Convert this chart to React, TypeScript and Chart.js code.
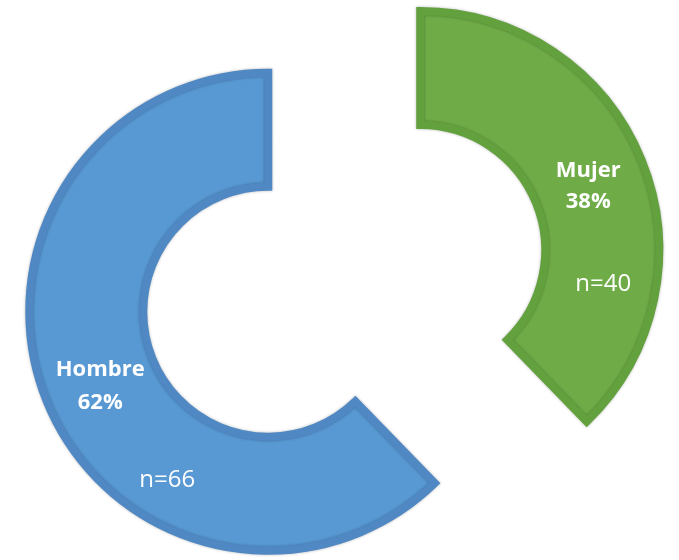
import React, { useEffect, useRef } from "react";
import { Chart, registerables } from "chart.js";

Chart.register(...registerables);

// ---- data ----
const CATEGORIES = ["Mujer", "Hombre"];
const COUNTS = [40, 66];
const PERCENT_LABELS = ["38%", "62%"];
const N_LABELS = ["n=40", "n=66"];

// ---- style ----
const FILL_COLORS = ["#6FAC47", "#5899D4"];
const BORDER_COLORS = ["#63A03E", "#4F88C3"];
const EXPLODE = 82;
const LABEL_LAYOUT = [
  { name: [168, -73], pct: [168, -42], n: [183, 41] },
  { name: [-168, 64], pct: [-168, 97], n: [-101, 175] },
];

const explodePlugin = {
  id: "explodeSlices",
  afterDatasetsUpdate(chart: any) {
    const meta = chart.getDatasetMeta(0);
    meta.data.forEach((arc: any) => {
      const mid = (arc.startAngle + arc.endAngle) / 2;
      arc.x += Math.cos(mid) * EXPLODE;
      arc.y += Math.sin(mid) * EXPLODE;
    });
  },
  beforeDatasetsDraw(chart: any) {
    const ctx = chart.ctx;
    ctx.save();
    ctx.shadowColor = "rgba(0,0,0,0.28)";
    ctx.shadowBlur = 3;
  },
  afterDatasetsDraw(chart: any) {
    const ctx = chart.ctx;
    ctx.restore();
    const meta = chart.getDatasetMeta(0);
    ctx.save();
    ctx.fillStyle = "#ffffff";
    ctx.textAlign = "center";
    ctx.textBaseline = "alphabetic";
    meta.data.forEach((arc: any, i: number) => {
      const lay = LABEL_LAYOUT[i];
      ctx.font = "bold 22px 'Open Sans'";
      ctx.fillText(CATEGORIES[i], arc.x + lay.name[0], arc.y + lay.name[1]);
      ctx.fillText(PERCENT_LABELS[i], arc.x + lay.pct[0], arc.y + lay.pct[1]);
      ctx.font = "24px 'Open Sans'";
      ctx.fillText(N_LABELS[i], arc.x + lay.n[0], arc.y + lay.n[1]);
    });
    ctx.restore();
  },
};

export default function App() {
  const ref = useRef<HTMLCanvasElement | null>(null);
  useEffect(() => {
    if (!ref.current) return;
    const chart = new Chart(ref.current, {
      type: "doughnut",
      data: {
        labels: CATEGORIES,
        datasets: [
          {
            data: COUNTS,
            backgroundColor: FILL_COLORS,
            borderColor: BORDER_COLORS,
            borderWidth: 8,
            borderAlign: "center",
            borderJoinStyle: "miter",
          } as any,
        ],
      },
      options: {
        animation: false,
        responsive: false,
        events: [],
        radius: 239,
        cutout: "52.3%",
        layout: { padding: { left: 9.5, top: 1.8, right: 0, bottom: 0 } },
        plugins: {
          legend: { display: false },
          tooltip: { enabled: false },
        },
      } as any,
      plugins: [explodePlugin],
    });
    return () => chart.destroy();
  }, []);
  return (
    <div style={{ position: "fixed", left: 0, top: 0, width: 679, height: 560, background: "#fff" }}>
      <canvas ref={ref} width={679} height={560} style={{ display: "block" }} />
    </div>
  );
}
